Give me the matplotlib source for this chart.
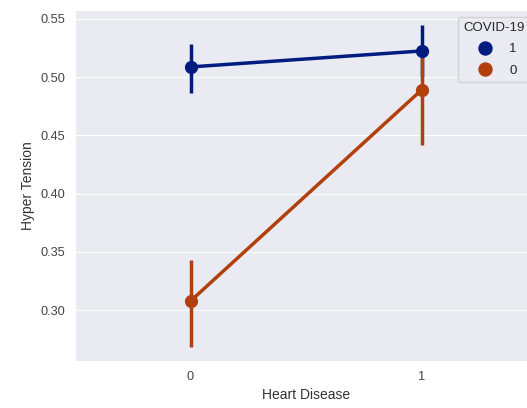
import matplotlib
matplotlib.use("Agg")
import matplotlib.pyplot as plt
import seaborn as sns
import numpy as np

# pointplot values
categories = ["0", "1"]
hue_levels = ["1", "0"]
means = {"1": [0.5088, 0.5225], "0": [0.3077, 0.4890]}
ci_low = {"1": [0.4864, 0.5005], "0": [0.2680, 0.4417]}
ci_high = {"1": [0.5285, 0.5448], "0": [0.3430, 0.5235]}
colors = {"1": "#001c7f", "0": "#b1400d"}

sns.set_style("darkgrid")
plt.rcParams["font.family"] = ["Liberation Sans", "DejaVu Sans"]

fig = plt.figure(figsize=(5.27, 4.08), dpi=100)
# axes runs a little past the right edge, like the cropped original
ax = fig.add_axes([75 / 527, 47 / 408, 462 / 527, 351 / 408])

x = np.arange(len(categories))
for h in hue_levels:
    ax.vlines(x, ci_low[h], ci_high[h], color=colors[h], lw=2.5, zorder=2)
    ax.plot(x, means[h], color=colors[h], lw=2.5, marker="o", markersize=8.5,
            label=h, zorder=3)

ax.set_xlim(-0.5, 1.5)
ax.set_ylim(0.2562, 0.5577)
ax.set_xticks(x)
ax.set_xticklabels(categories)
ax.set_yticks([0.30, 0.35, 0.40, 0.45, 0.50, 0.55])
ax.xaxis.grid(False)
ax.tick_params(labelsize=9.2, colors="#444444")
ax.set_xlabel("Heart Disease", fontsize=10, color="#333333")
ax.set_ylabel("Hyper Tension", fontsize=10, color="#333333")

leg = ax.legend(title="COVID-19", loc="upper right", fontsize=9.5,
                title_fontsize=9.5, markerscale=1.1, labelspacing=0.7)
for line in leg.get_lines():
    line.set_linestyle("")

fig.savefig("out.png", dpi=100)
